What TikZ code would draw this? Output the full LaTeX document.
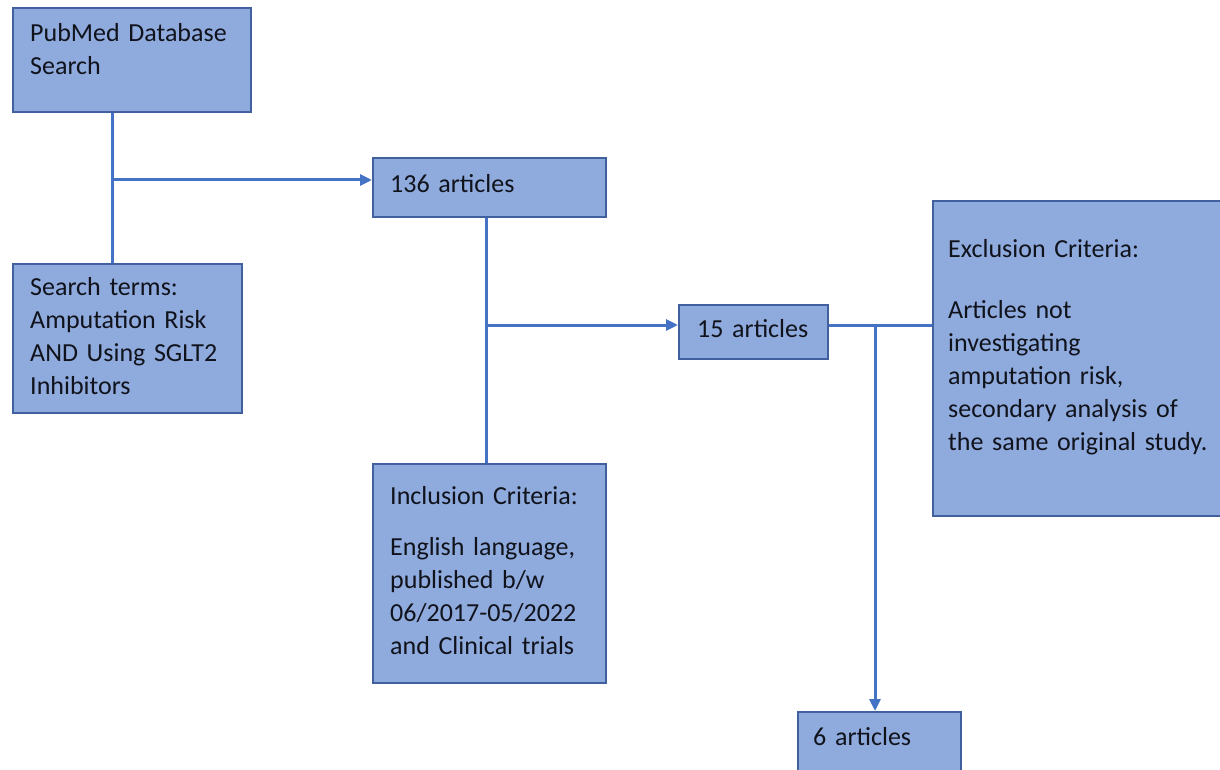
\documentclass[tikz,border=0pt]{standalone}
\usepackage{fontspec}
\setmainfont{Carlito}
\usetikzlibrary{arrows.meta}
\definecolor{boxfill}{HTML}{8FAADC}
\definecolor{boxedge}{HTML}{41619E}
\definecolor{flow}{HTML}{4472C4}
\definecolor{ink}{HTML}{10131C}
\tikzset{
  box/.style={draw=boxedge, line width=2pt, fill=boxfill, anchor=north west, inner sep=0pt},
  txt/.style={anchor=base west, inner sep=0pt, text width=300pt, align=left, text=ink,
    font=\fontsize{26}{33}\selectfont},
  flowline/.style={draw=flow, line width=3pt},
  flowarrow/.style={flowline, -{Triangle[length=12pt,width=11pt]}}
}
\begin{document}
\begin{tikzpicture}[x=1pt,y=-1pt]
\useasboundingbox (0,0) rectangle (1220,770);
\fill[white] (0,0) rectangle (1220,770);
\clip (0,0) rectangle (1220,770);

% boxes
\node[box, minimum width=238pt, minimum height=104pt] (pub) at (12,7) {};
\node[box, minimum width=229pt, minimum height=149pt] (search) at (12,263) {};
\node[box, minimum width=233pt, minimum height=59pt] (a136) at (372,157) {};
\node[box, minimum width=233pt, minimum height=219pt] (incl) at (372,463) {};
\node[box, minimum width=149pt, minimum height=54pt] (a15) at (678,304) {};
\node[box, minimum width=320pt, minimum height=315pt] (excl) at (932,200) {};
\node[box, minimum width=163pt, minimum height=80pt] (a6) at (797,711) {};

% texts
\node[txt] (tpub) at (30,42) {PubMed Database\\Search};
\node[txt] (tsearch) at (30,295) {Search terms:\\Amputation Risk\\AND Using SGLT2\\Inhibitors};
\node[txt] (t136) at (390,193) {136 articles};
\node[txt] (tincl) at (390,504) {Inclusion Criteria:\\[18pt]English language,\\published b/w\\06/2017-05/2022\\and Clinical trials};
\node[txt] (t15) at (697,337) {15 articles};
\node[txt] (texcl) at (948,257) {Exclusion Criteria:\\[28pt]Articles not\\investigating\\amputation risk,\\secondary analysis of\\the same original study.};
\node[txt] (t6) at (813,745) {6 articles};

% junctions
\coordinate (j1) at (112,180);
\coordinate (j2) at (486,325);
\coordinate (j3) at (875,325);

% connectors
\draw[flowline] (pub.south -| j1) -- (search.north -| j1);
\draw[flowarrow] (j1) -- (j1 -| a136.west);
\draw[flowline] (a136.south -| j2) -- (incl.north -| j2);
\draw[flowarrow] (j2) -- (j2 -| a15.west);
\draw[flowline] (a15.east |- j3) -- (excl.west |- j3);
\draw[flowarrow] (j3) -- (j3 |- a6.north);
\end{tikzpicture}
\end{document}
